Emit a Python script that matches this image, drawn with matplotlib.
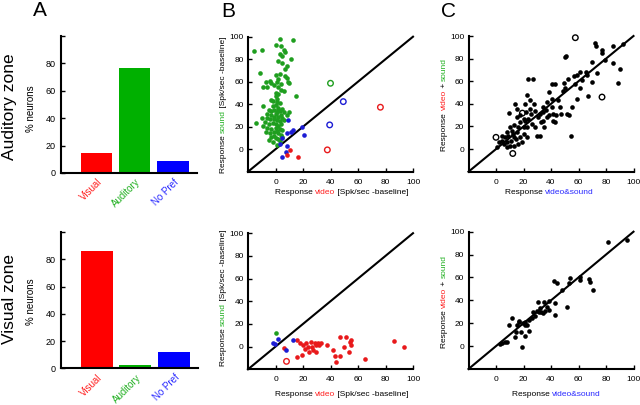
import matplotlib.pyplot as plt
from matplotlib.transforms import ScaledTranslation

plt.rcParams['font.family'] = ['Liberation Sans', 'DejaVu Sans']

# ---- data ----
cats = ['Visual', 'Auditory', 'No Pref']
aud_zone_pct = [14.4, 77, 9]
vis_zone_pct = [86, 2.4, 11.7]

# B, auditory zone: response video (x) vs response sound (y)
bt_snd_x = [-16, -10, 3, 13, 0, 4, 6, 7, 3, 5, 11, 2, 5, 8, -11, 7, 3, 0, 7, 8, -7, -4, -3, 1, -1, 4, 9, 10,
            -9, -6, 2, 6, 0, 2, 0, 1, 15, -2, 1, 3, 0, -9, -2, 2, 5, -5, -3, -1, 1, 3, 6, 10, -6, -3, 0, 2, 4,
            -10, -6, -4, -1, 1, 3, 6, -8, -14, -5, -2, 0, 2, 4, -9, -6, -3, 0, 3, 5, -7, -4, -1, 2, 4, -3, 0,
            2, 5, -5, -2, 1, 3, -1, 1, 5, 2, -1, 8, -3, 2, 4]
bt_snd_y = [87, 88, 98, 97, 93, 92, 88, 86, 85, 83, 80, 78, 77, 74, 68, 71, 67, 66, 65, 63, 60, 61, 59, 60, 57,
            58, 60, 59, 55, 55, 55, 52, 50, 49, 47, 45, 47, 43, 42, 41, 39, 38, 38, 37, 36, 35, 34, 35, 33, 34,
            33, 33, 31, 30, 31, 29, 30, 28, 28, 27, 27, 26, 25, 26, 24, 23, 22, 23, 22, 21, 22, 21, 19, 18, 19,
            18, 17, 15, 14, 15, 14, 13, 11, 10, 9, 11, 8, 6, 4, 7, 12, 16, 28, 35, 29, 30, 44, 62, 53]
bt_np_x = [9, 8, 11, 13, 19, 21, 4.5, 3, 8.5, 7.5, 4.5]
bt_np_y = [26, 14, 15, 17, 20, 12.5, 10, 4.5, 2.5, -2.5, -7]
bt_vis_x = [10.5, 8.5, 16.5]
bt_vis_y = [-1, -5.5, -6.5]
bt_snd_open_x, bt_snd_open_y = [40], [58.6]
bt_np_open_x, bt_np_open_y = [49.3, 39.4], [42.3, 21.6]
bt_vis_open_x, bt_vis_open_y = [37.7, 76.3], [-0.6, 37.3]

# B, visual zone
bb_snd_x, bb_snd_y = [0], [12]
bb_np_x = [-2, -0.5, 1.9, 7.3, 12.8]
bb_np_y = [3, 2.5, 6.5, -2.9, 5.9]
bb_vis_x = [6.3, 15.7, 17.7, 15.7, 19.3, 20.1, 22.5, 23.7, 21.3, 24.2, 26.2, 27.3, 28.6, 29.8, 31, 29.1, 31.5,
            37.1, 41.9, 43.1, 46.7, 43.8, 46.7, 49.6, 51.6, 54, 54.7, 53.3, 55.2, 65.4, 86, 93.2, 26, 33]
bb_vis_y = [-1.4, 5.9, 3, -8.8, -7.3, 1.5, 3.5, 0, -2.3, -4.4, 0, -2.9, 3, 1.5, 3.5, -4.4, 1.5,
            1.5, -2.9, -8.2, -8.2, -13.2, 8.3, 0, 8.3, 4.4, 1.5, -4.4, 5.9, -11.1, 5, -0.5, 4, 3]
bb_vis_open_x, bb_vis_open_y = [8], [-13]

# C, auditory zone: response video&sound (x) vs video + sound (y)
ct_x = [71.8, 73, 77.1, 77.4, 85.2, 92.5, 79.1, 85.2, 90, 88.6, 69.8, 65.5, 66.2, 60.8, 58.9, 57, 62.5, 69.8,
        73.5, 57.7, 60.8, 51.1, 50.4, 52.3, 49.1, 50.4, 48.7, 58.9, 66.9, 54.5, 52.8, 51.6, 46.7, 44.8, 40.6,
        38.2, 40.4, 43.1, 37, 34.5, 36.5, 34.1, 32.1, 30.2, 34.5, 35, 32.6, 28.5, 29.7, 32.1, 40.6, 41.4, 41.8,
        38.9, 37, 43.8, 43.1, 23.6, 26.8, 22.9, 24.8, 27.3, 21.2, 24.8, 21.7, 28.5, 25.3, 17.5, 20, 15.1, 13.9,
        15.1, 9.7, 17.5, 21.2, 23.6, 26, 22.9, 20, 16.3, 13.4, 10.2, 11.4, 7.8, 9, 12.7, 15.1, 17.5, 14.6, 10.7,
        7.8, 5.8, 7.8, 10.2, 4.1, 2.4, 1, 13.4, 16.3, 18.7, 20, 22.4, 13.1, 6.6, 4.1, 47.5, 55.2]
ct_y = [93.5, 91.4, 88, 84.6, 91, 92.6, 78.6, 76.3, 71.2, 58.5, 77, 68.2, 65.3, 68.5, 65.3, 65, 61.4, 59.3,
        67.4, 57.9, 54.3, 82.2, 81.6, 62.3, 58.5, 54.3, 51.3, 43.9, 46.9, 11.9, 30.3, 31.2, 37.1, 43.6, 44.5,
        50.4, 57.9, 57.3, 41.5, 37.1, 34.7, 33.2, 31.2, 28.8, 25.2, 19.3, 23.7, 19.3, 11.9, 11.9, 37.1, 31.2,
        25.2, 29.7, 28.2, 29.7, 23.7, 61.7, 61.7, 47.5, 43, 40.1, 40.1, 35.6, 32.6, 34.1, 31.2, 29.7, 26.7, 28.2,
        40.1, 35.6, 31.8, 23.7, 25.2, 26.7, 22.3, 19.9, 19.9, 19.3, 21.4, 19.3, 16.3, 14.8, 11.9, 13.4, 14.8,
        10.4, 8.9, 7.4, 5.9, 4.5, 1.5, 3, 7.4, 5.9, 1.5, 3, 4.5, 5.9, 13.4, 10.4, 10.4, 10.4, 11.9, 31, 37]
ct_open_x = [57.7, 19.2, 0, 12.2, 77.1]
ct_open_y = [98.5, 31.8, 10.4, -3.9, 46]

# C, visual zone
cb_x = [81.4, 95.6, 67.3, 68.5, 70.9, 61.3, 61.3, 53.9, 52.8, 47.9, 41.9, 44.3, 51.6, 42.6, 42.6, 38.3, 35.1,
        37.3, 38.3, 35.4, 32.2, 31.5, 33, 29.8, 28.6, 26.2, 23.7, 21.3, 19.4, 16.5, 11.6, 9.2, 15.3, 17, 22.5,
        20.8, 23.7, 14.8, 17.9, 21.1, 18.9, 13.6, 8.2, 6.5, 4.4, 3.1, 27.1, 30.8, 34.4]
cb_y = [91.3, 92.7, 58.6, 55.7, 49, 60, 57.7, 59.2, 54.8, 49, 56.9, 55.4, 34.4, 37.9, 27.1, 39.4, 38.8,
        34.4, 31.5, 30.6, 32.9, 30, 29.4, 30.6, 26.5, 24.2, 22.7, 21.3, 19.8, 21.3, 24.8, 18.4, 18.4, 21.9, 18.4,
        18.4, 13.1, 12, 12.5, 8.7, -0.6, 8.2, 3.8, 3.2, 2.3, 1.5, 29.4, 38.2, 28.6]

RED, GREEN, BLUE = '#ff0000', '#00b000', '#0000ff'
DR, DG, DB = '#e8191b', '#1f9e1f', '#1c1cd4'      # dots
TR, TG, TB = '#ff2020', '#22b022', '#2a2aff'      # text

fig = plt.figure(figsize=(6.4, 4.05), dpi=100)


def rect(l, t, r, b):
    # axes box given in picture pixels
    return [l / 640, 1 - b / 405, (r - l) / 640, (b - t) / 405]


def ftext(x, y, s, **kw):
    return fig.text(x / 640, 1 - y / 405, s, **kw)


def chain(x, y, parts, rotation=0, size=6):
    # text centred at (x, y) made of coloured pieces
    full = ''.join(p[0] for p in parts)
    prev = ftext(x, y, full, rotation=rotation, ha='center', va='center', fontsize=size, alpha=0)
    for i, (s, c) in enumerate(parts):
        if rotation == 0:
            xy = (0, 0) if i == 0 else (1, 0)
        else:
            xy = (0, 0) if i == 0 else (0, 1)
        prev = fig.axes[0].annotate(s, xy=xy, xycoords=prev, ha='left', va='bottom', rotation=rotation,
                                    color=c, fontsize=size, annotation_clip=False)


def bar_panel(r, vals):
    ax = fig.add_axes(r)
    ax.bar(range(3), vals, width=0.82, color=[RED, GREEN, BLUE])
    ax.set_xlim(-0.93, 2.63)
    ax.set_ylim(0, 100)
    for s in ['top', 'right']:
        ax.spines[s].set_visible(False)
    for s in ['left', 'bottom']:
        ax.spines[s].set_linewidth(1.5)
    ax.set_yticks([0, 20, 40, 60, 80, 100])
    ax.set_yticklabels(['0', '20', '40', '60', '80', ''])
    ax.tick_params(axis='y', direction='in', length=3, width=1, labelsize=6.5, pad=4)
    ax.set_xticks(range(3))
    ax.set_xticklabels(cats, rotation=45, ha='right', va='center', rotation_mode='anchor', fontsize=7)
    ax.tick_params(axis='x', length=0, pad=5.5)
    for lab, c in zip(ax.get_xticklabels(), [TR, TG, TB]):
        lab.set_color(c)
        lab.set_transform(lab.get_transform() + ScaledTranslation(4 / 100, 0, fig.dpi_scale_trans))
    return ax


def scatter_panel(r):
    ax = fig.add_axes(r)
    ax.set_xlim(-20, 100)
    ax.set_ylim(-20, 100)
    for s in ['top', 'right']:
        ax.spines[s].set_visible(False)
    for s in ['left', 'bottom']:
        ax.spines[s].set_linewidth(1.5)
    ax.set_xticks(range(0, 101, 20))
    ax.set_yticks(range(0, 101, 20))
    ax.tick_params(direction='in', length=3, width=1, labelsize=6)
    ax.tick_params(axis='x', pad=5)
    ax.tick_params(axis='y', pad=3)
    ax.plot([-20, 100], [-20, 100], color='k', lw=1.5, clip_on=False)
    return ax


def dots(ax, x, y, c):
    ax.scatter(x, y, s=11, color=c, linewidths=0, clip_on=False, zorder=3)


def rings(ax, x, y, c):
    ax.scatter(x, y, s=16, facecolors='none', edgecolors=c, linewidths=1, clip_on=False, zorder=3)


# A
axa1 = bar_panel(rect(61, 36, 197, 173), aud_zone_pct)
axa2 = bar_panel(rect(61, 232, 198, 368.3), vis_zone_pct)

# B
axb1 = scatter_panel(rect(248, 36.7, 413, 171.7))
dots(axb1, bt_snd_x, bt_snd_y, DG)
dots(axb1, bt_np_x, bt_np_y, DB)
dots(axb1, bt_vis_x, bt_vis_y, DR)
rings(axb1, bt_snd_open_x, bt_snd_open_y, DG)
rings(axb1, bt_np_open_x, bt_np_open_y, DB)
rings(axb1, bt_vis_open_x, bt_vis_open_y, DR)

axb2 = scatter_panel(rect(248, 233.2, 413, 369.3))
dots(axb2, bb_vis_x, bb_vis_y, DR)
dots(axb2, bb_np_x, bb_np_y, DB)
dots(axb2, bb_snd_x, bb_snd_y, DG)
rings(axb2, bb_vis_open_x, bb_vis_open_y, DR)

# C
axc1 = scatter_panel(rect(468.5, 36, 633.5, 171.7))
dots(axc1, ct_x, ct_y, 'k')
rings(axc1, ct_open_x, ct_open_y, 'k')

axc2 = scatter_panel(rect(468.5, 231.7, 633.5, 369))
dots(axc2, cb_x, cb_y, 'k')

# labels
ftext(40, 11, 'A', fontsize=15, ha='center', va='center')
ftext(228.5, 11.5, 'B', fontsize=15, ha='center', va='center')
ftext(448.5, 11.5, 'C', fontsize=15, ha='center', va='center')
ftext(10, 107, 'Auditory zone', fontsize=12.5, rotation=90, ha='center', va='center')
ftext(10, 299, 'Visual zone', fontsize=12.5, rotation=90, ha='center', va='center')
ftext(31.5, 109, '% neurons', fontsize=7, rotation=90, ha='center', va='center')
ftext(31.5, 302, '% neurons', fontsize=7, rotation=90, ha='center', va='center')

xl_b = [('Response ', 'k'), ('video', TR), (' [Spk/sec -baseline]', 'k')]
yl_b = [('Response ', 'k'), ('sound', TG), (' [Spk/sec -baseline]', 'k')]
xl_c = [('Response ', 'k'), ('video&sound', TB)]
yl_c = [('Response ', 'k'), ('video', TR), (' + ', 'k'), ('sound', TG)]

chain(342, 193, xl_b)
chain(223.5, 105, yl_b, rotation=90)
chain(549, 193, xl_c)
chain(444, 104, yl_c, rotation=90)
chain(342, 394, xl_b)
chain(223.5, 298, yl_b, rotation=90)
chain(556, 394, xl_c)
chain(444, 302, yl_c, rotation=90)

fig.savefig('out.png', dpi=100)
